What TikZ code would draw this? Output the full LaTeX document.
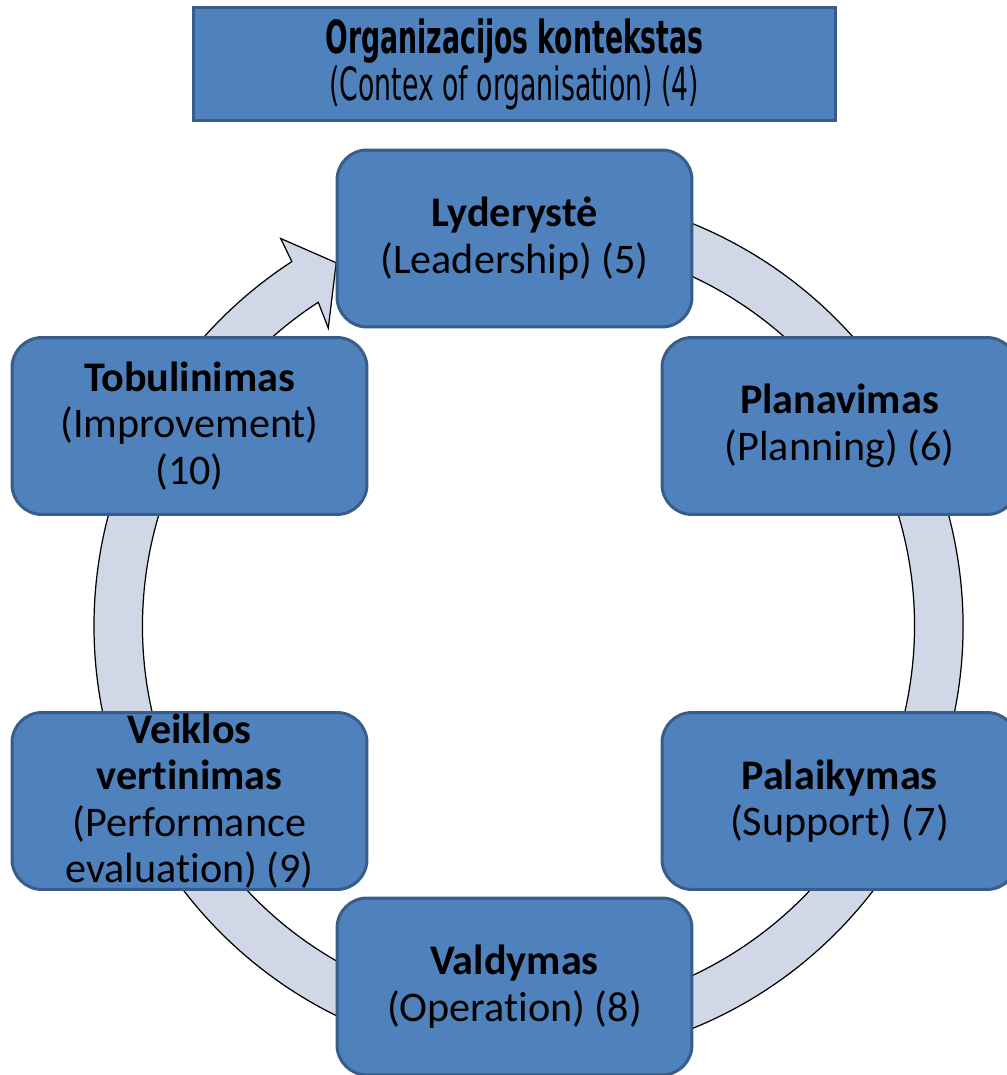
\documentclass[tikz,border=0pt]{standalone}
\usepackage{fontspec}
\setmainfont[Ligatures=NoCommon]{Carlito}
\newfontfamily\titlefont[FakeStretch=0.65]{DejaVu Sans Condensed}
\usetikzlibrary{calc,positioning}

\definecolor{boxblue}{HTML}{4F81BD}
\definecolor{boxline}{HTML}{385D8A}
\definecolor{ringfill}{HTML}{D0D8E8}

\tikzset{
    stagebox/.style={draw=boxline, fill=boxblue, line width=0.06cm, rounded corners=0.6cm,
        minimum width=7.1cm, minimum height=3.54cm, align=center, inner sep=0pt,
        font=\fontsize{24}{26.5}\selectfont},
    titlebox/.style={draw=boxline, fill=boxblue, line width=0.06cm,
        minimum width=12.86cm, minimum height=2.26cm, align=center, inner sep=0pt,
        font=\titlefont\fontsize{26}{27}\selectfont}
}

\begin{document}
\begin{tikzpicture}[x=0.02cm, y=0.02cm]
                \useasboundingbox (0,0) rectangle (1007,1075);
                \coordinate (C) at (528.5,449);
                % ring arrow
                \draw[fill=ringfill, line width=0.7pt, line join=miter]
                    ($(C)+(100:434.5)$) arc[start angle=100, end angle=-237, radius=434.5]
                    -- ($(C)+(122.6:460)$) -- ($(C)+(117.9:411)$) -- ($(C)+(123.9:359)$)
                    -- ($(C)+(123:386)$) arc[start angle=123, end angle=460, radius=386] -- cycle;
                \node[titlebox] (ctx) at (514.5,1010.5) {\textbf{Organizacijos kontekstas}\\(Contex of organisation) (4)};
                \node[stagebox] (lead) at (514.5,836.5) {\textbf{Lyderystė}\\(Leadership) (5)};
                \node[stagebox] (plan) at (839.5,649) {\textbf{Planavimas}\\(Planning) (6)};
                \node[stagebox] (supp) at (839.5,274) {\textbf{Palaikymas}\\(Support) (7)};
                \node[stagebox] (oper) at (514.5,88.5) {\textbf{Valdymas}\\(Operation) (8)};
                \node[stagebox] (eval) at (189.5,274) {\textbf{Veiklos}\\\textbf{vertinimas}\\(Performance\\evaluation) (9)};
                \node[stagebox] (impr) at (189.5,649) {\textbf{Tobulinimas}\\(Improvement)\\(10)};
            \end{tikzpicture}
\end{document}
